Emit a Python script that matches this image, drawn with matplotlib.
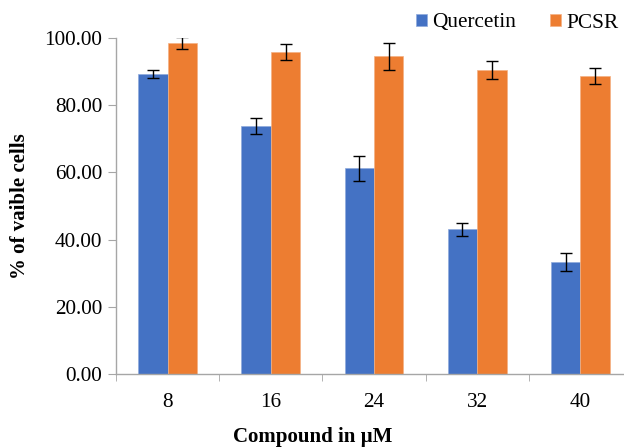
import numpy as np
import matplotlib.pyplot as plt

doses = ['8', '16', '24', '32', '40']
quercetin = [89.2, 73.7, 61.2, 43.1, 33.3]
quercetin_err = [1.25, 2.4, 3.8, 1.9, 2.6]
pcsr = [98.6, 95.9, 94.6, 90.5, 88.7]
pcsr_err = [1.8, 2.45, 4.0, 2.6, 2.25]

plt.rcParams['font.family'] = ['Liberation Serif', 'DejaVu Serif']

fig = plt.figure(figsize=(6.24, 4.48), dpi=100)
ax = fig.add_axes([116 / 624, 1 - 374 / 448, 516 / 624, 336 / 448])

x = np.arange(len(doses))
w = 0.285
err_kw = dict(ecolor='black', capsize=4, elinewidth=1, capthick=1)
ax.bar(x - w / 2, quercetin, w, yerr=quercetin_err, color='#4472C4',
       edgecolor='#8faadc', linewidth=0.5, label='Quercetin', error_kw=err_kw)
ax.bar(x + w / 2, pcsr, w, yerr=pcsr_err, color='#ED7D31',
       edgecolor='#f4b183', linewidth=0.5, label='PCSR', error_kw=err_kw)

ax.set_xlim(-0.5, 4.5)
ax.set_ylim(0, 100)
ax.set_yticks(np.arange(0, 101, 20))
ax.set_yticklabels(['%.2f' % v for v in np.arange(0, 101, 20)])
ax.set_xticks(x)
ax.set_xticklabels(doses)
ax.set_xticks(np.arange(-0.5, 4.0, 1.0), minor=True)
ax.tick_params(axis='x', which='major', length=0, pad=14, labelsize=15.3)
ax.tick_params(axis='x', which='minor', length=5, color='#a6a6a6')
ax.tick_params(axis='y', length=6, color='#a6a6a6', labelsize=15.3, pad=4)

for s in ['top', 'right']:
    ax.spines[s].set_visible(False)
for s in ['left', 'bottom']:
    ax.spines[s].set_color('#a6a6a6')
    ax.spines[s].set_linewidth(1)

fig.text(20 / 624, 1 - 206 / 448, '% of vaible cells', rotation=90, ha='center',
         va='center', fontsize=15, fontweight='bold')
fig.text(313 / 624, 1 - 437 / 448, 'Compound in µM', ha='center', va='center',
         fontsize=15, fontweight='bold')

fig.legend(loc='center left', bbox_to_anchor=(416 / 624, 1 - 23 / 448), ncol=2,
           frameon=False, fontsize=15.3, handlelength=0.52, handleheight=0.52,
           handletextpad=0.25, columnspacing=1.6, borderpad=0, borderaxespad=0)

fig.savefig('out.png', dpi=100)
